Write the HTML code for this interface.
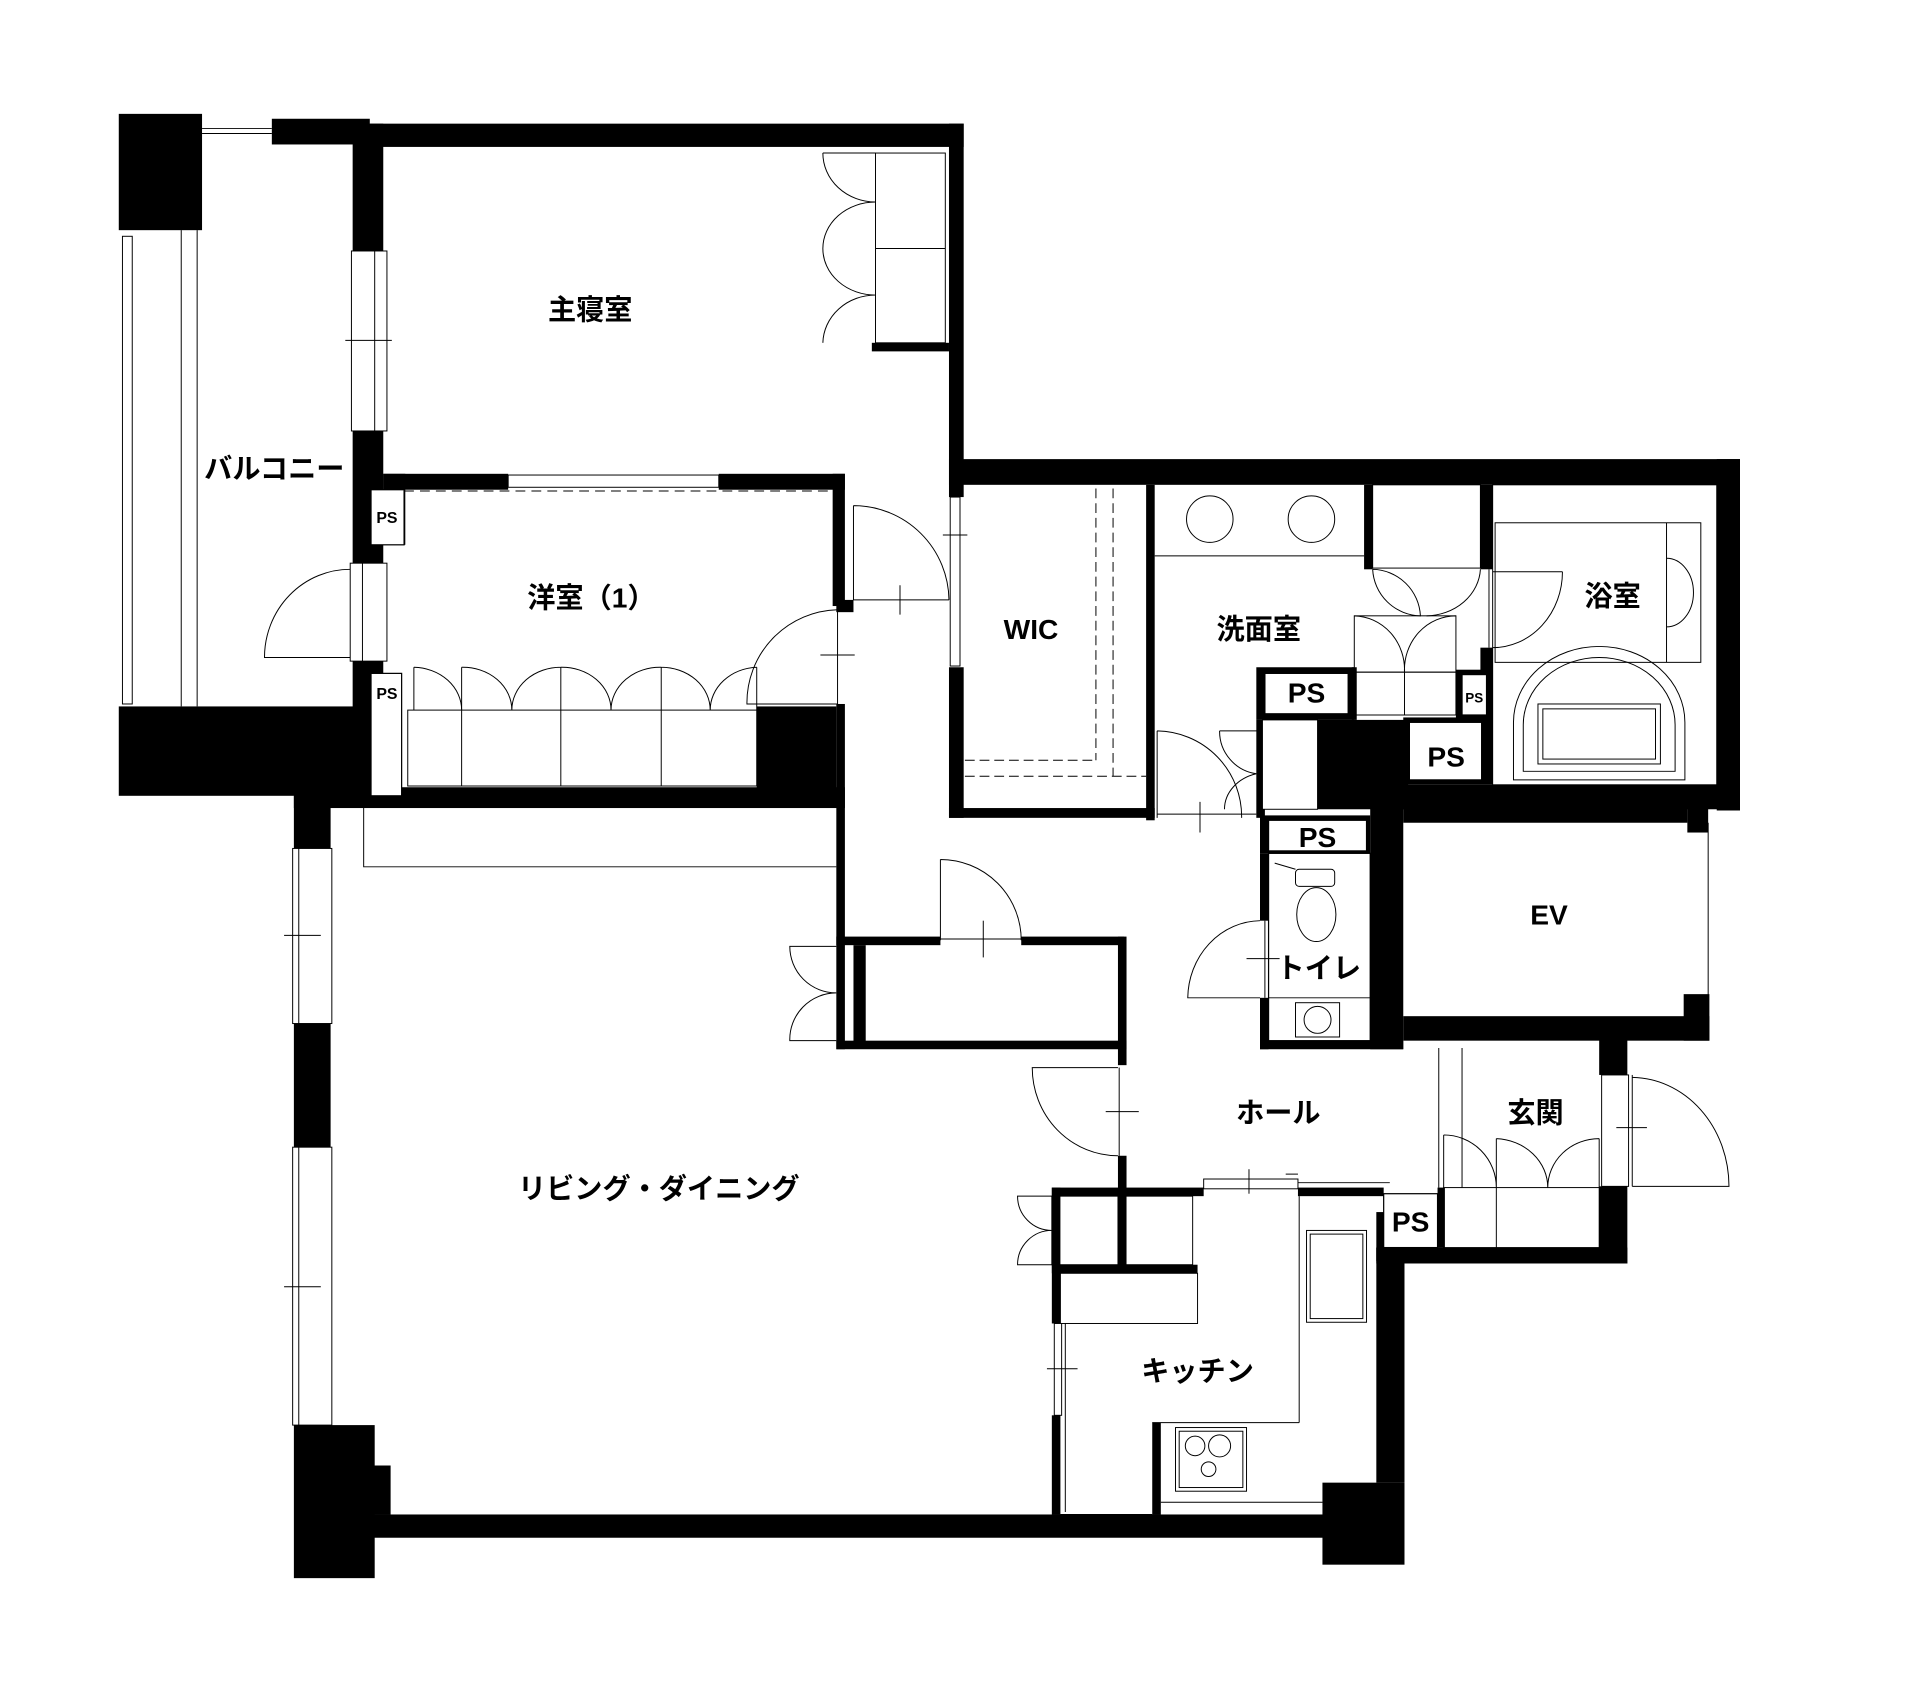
<!DOCTYPE html>
<html><head><meta charset="utf-8"><style>
html,body{margin:0;padding:0;background:#fff}
svg{display:block}
text{font-family:"Liberation Sans","Noto Sans CJK JP",sans-serif;font-weight:bold;fill:#000}
</style></head><body>
<svg width="1920" height="1692" viewBox="0 0 1568 1382" preserveAspectRatio="none" xmlns="http://www.w3.org/2000/svg">
<rect width="1568" height="1382" fill="#fff"/>
<g fill="#000" stroke="none">
<rect x="97" y="93" width="68" height="95"/>
<rect x="222" y="97" width="80" height="21"/>
<rect x="302" y="101" width="485" height="19"/>
<rect x="288" y="101" width="25" height="104"/>
<rect x="288" y="352" width="25" height="108"/>
<rect x="288" y="540" width="25" height="115"/>
<rect x="313" y="387" width="18" height="58"/>
<rect x="313" y="387" width="102" height="13"/>
<rect x="587" y="387" width="103" height="13"/>
<rect x="680" y="387" width="10" height="108"/>
<rect x="683" y="490" width="14" height="10"/>
<rect x="775" y="101" width="12" height="305"/>
<rect x="775" y="545" width="12" height="123"/>
<rect x="712" y="280" width="63" height="7"/>
<rect x="97" y="577" width="208" height="73"/>
<rect x="618" y="577" width="65" height="78"/>
<rect x="240" y="643" width="450" height="17"/>
<rect x="240" y="650" width="30" height="43"/>
<rect x="683" y="575" width="7" height="282"/>
<rect x="240" y="836" width="30" height="101"/>
<rect x="240" y="1164" width="66" height="125"/>
<rect x="270" y="1197" width="49" height="40"/>
<rect x="303" y="1237" width="842" height="19"/>
<rect x="1080" y="1211" width="67" height="67"/>
<rect x="683" y="765" width="85" height="7"/>
<rect x="834" y="765" width="84" height="7"/>
<rect x="697" y="772" width="10" height="80"/>
<rect x="683" y="850" width="237" height="7"/>
<rect x="913" y="765" width="7" height="105"/>
<rect x="913" y="944" width="7" height="89"/>
<rect x="775" y="375" width="646" height="21"/>
<rect x="1402" y="375" width="19" height="287"/>
<rect x="1144" y="641" width="277" height="20"/>
<rect x="1378" y="660" width="17" height="20"/>
<rect x="936" y="396" width="7" height="274"/>
<rect x="775" y="660" width="168" height="8"/>
<rect x="1114" y="396" width="7" height="69"/>
<rect x="1209" y="396" width="10" height="69"/>
<rect x="1209" y="529" width="10" height="20"/>
<rect x="1026" y="545" width="80" height="43"/>
<rect x="1026" y="588" width="7" height="80"/>
<rect x="1076" y="588" width="74" height="73"/>
<rect x="1104" y="545" width="4" height="43"/>
<rect x="1189" y="547" width="30" height="41"/>
<rect x="1146" y="586" width="73" height="55"/>
<rect x="1029" y="666" width="90" height="31"/>
<rect x="1029" y="697" width="7" height="55"/>
<rect x="1029" y="815" width="7" height="42"/>
<rect x="1029" y="850" width="117" height="7"/>
<rect x="1119" y="660" width="27" height="197"/>
<rect x="1146" y="660" width="232" height="12"/>
<rect x="1146" y="830" width="250" height="20"/>
<rect x="1375" y="812" width="21" height="38"/>
<rect x="1306" y="849" width="23" height="29"/>
<rect x="1306" y="969" width="23" height="63"/>
<rect x="1124" y="1019" width="205" height="13"/>
<rect x="1124" y="990" width="6" height="40"/>
<rect x="1174" y="970" width="6" height="49"/>
<rect x="1124" y="1019" width="23" height="192"/>
<rect x="859" y="970" width="124" height="7"/>
<rect x="1060" y="970" width="70" height="7"/>
<rect x="859" y="970" width="7" height="111"/>
<rect x="859" y="1156" width="7" height="81"/>
<rect x="859" y="1033" width="119" height="7"/>
<rect x="941" y="1162" width="7" height="75"/>
</g>
<g fill="#fff" stroke="#000" stroke-width="1">
<rect x="303" y="400" width="27" height="45"/>
<rect x="303" y="550" width="25" height="100"/>
<rect x="1033" y="550" width="68" height="33"/>
<rect x="1194" y="551" width="20" height="33"/>
<rect x="1151" y="590" width="59" height="47"/>
<rect x="1036" y="670" width="80" height="25"/>
<rect x="1130" y="975" width="44" height="44"/>
<rect x="1036" y="697" width="83" height="153" fill="none"/>
</g>
<g fill="none" stroke="#000" stroke-width="0.8">
<line x1="165" y1="105" x2="222" y2="105"/><line x1="165" y1="109" x2="222" y2="109"/>
<rect x="100" y="193" width="8" height="382"/>
<line x1="148" y1="188" x2="148" y2="577"/><line x1="161" y1="188" x2="161" y2="577"/>
<rect x="287" y="205" width="29" height="147" fill="#fff"/><line x1="306" y1="205" x2="306" y2="352"/><line x1="282" y1="278" x2="320" y2="278"/>
<rect x="286" y="460" width="30" height="80" fill="#fff"/><line x1="296" y1="460" x2="296" y2="540"/>
<path d="M286 465 A70 72 0 0 0 216 537 L286 537"/>
<rect x="239" y="693" width="32" height="143" fill="#fff"/><line x1="244" y1="693" x2="244" y2="836"/><line x1="232" y1="764" x2="262" y2="764"/>
<rect x="239" y="937" width="32" height="227" fill="#fff"/><line x1="244" y1="937" x2="244" y2="1164"/><line x1="232" y1="1051" x2="262" y2="1051"/>
<rect x="715" y="125" width="57" height="155"/><line x1="715" y1="203" x2="772" y2="203"/>
<path d="M715 125 L672 125 M672 125 A43 40 0 0 0 715 165 A43 38 0 0 0 672 203 A43 38 0 0 0 715 241 A43 40 0 0 0 672 280"/>
<rect x="415" y="388" width="172" height="10"/>
<line x1="330" y1="401" x2="680" y2="401" stroke-dasharray="8 5"/>
<rect x="333" y="580" width="285" height="62"/>
<line x1="377" y1="545" x2="377" y2="642"/><line x1="458" y1="545" x2="458" y2="642"/><line x1="540" y1="545" x2="540" y2="642"/>
<line x1="338" y1="545" x2="338" y2="580"/><line x1="618" y1="545" x2="618" y2="580"/>
<path d="M338 545 A40 35 0 0 1 377 580 M377 545 A40 35 0 0 1 418 580 A40 35 0 0 1 458 545 M458 545 A40 35 0 0 1 499 580 A40 35 0 0 1 540 545 M540 545 A40 35 0 0 1 580 580 A40 35 0 0 1 618 545"/>
<path d="M697 413 L697 490 L775 490 M697 413 A78 78 0 0 1 775 490"/>
<line x1="735" y1="478" x2="735" y2="502"/>
<rect x="776" y="406" width="8" height="138" fill="#fff"/><line x1="770" y1="437" x2="790" y2="437"/>
<path d="M684 498 L684 575 M684 498 A76 76 0 0 0 610 575 L684 575"/>
<line x1="670" y1="535" x2="698" y2="535"/>
<path d="M297 660 L297 708 L683 708"/>
<path d="M768 702 L768 768 M768 702 A66 66 0 0 1 834 768"/>
<line x1="768" y1="767" x2="834" y2="767"/><line x1="803" y1="752" x2="803" y2="782"/>
<path d="M683 773 L645 773 A38 38 0 0 0 683 811 A38 38 0 0 0 645 850 L683 850"/>
<path d="M913 872 L843 872 A70 72 0 0 0 913 944"/><line x1="914" y1="872" x2="914" y2="944"/><line x1="903" y1="908" x2="930" y2="908"/>
<line x1="895" y1="399" x2="895" y2="621" stroke-dasharray="8 4"/><line x1="909" y1="399" x2="909" y2="634" stroke-dasharray="8 4"/>
<line x1="788" y1="621" x2="895" y2="621" stroke-dasharray="8 4"/><line x1="788" y1="634" x2="936" y2="634" stroke-dasharray="8 4"/>
<circle cx="988" cy="424" r="19"/><circle cx="1071" cy="424" r="19"/>
<line x1="943" y1="454" x2="1114" y2="454"/>
<rect x="1121" y="396" width="88" height="68"/>
<rect x="1106" y="503" width="83" height="46"/>
<rect x="1106" y="549" width="83" height="35"/><line x1="1147" y1="549" x2="1147" y2="584"/>
<path d="M1121 465 A40 40 0 0 0 1160 503 A40 40 0 0 0 1121 465 M1209 465 A45 40 0 0 1 1165 503 M1106 503 A42 44 0 0 1 1147 549 A42 44 0 0 1 1189 503"/>
<path d="M945 597 L945 668 M945 597 A70 70 0 0 1 1014 668"/><line x1="945" y1="665" x2="1026" y2="665"/><line x1="980" y1="655" x2="980" y2="680"/>
<rect x="1031" y="588" width="45" height="73" fill="#fff"/>
<path d="M996 597 L1031 597 M996 597 A35 35 0 0 0 1026 632 A35 30 0 0 0 1000 661"/>
<rect x="1219" y="396" width="183" height="245"/>
<rect x="1221" y="427" width="168" height="114"/><line x1="1361" y1="427" x2="1361" y2="541"/>
<path d="M1361 456 A22 28 0 0 1 1361 512"/>
<line x1="1216" y1="465" x2="1216" y2="529"/>
<path d="M1219 467 L1276 467 M1276 467 A57 62 0 0 1 1219 529"/>
<path d="M1236 637 L1236 590 A70 62 0 0 1 1376 590 L1376 637 Z"/>
<path d="M1244 630 L1244 592 A62 55 0 0 1 1368 592 L1368 630 Z"/>
<rect x="1256" y="575" width="100" height="49"/><rect x="1260" y="579" width="92" height="41"/>
<line x1="1395" y1="672" x2="1395" y2="815"/>
<rect x="1058" y="710" width="32" height="14" rx="3"/>
<ellipse cx="1075" cy="747" rx="16" ry="22"/>
<path d="M1041 705 L1058 710"/>
<line x1="1036" y1="815" x2="1119" y2="815"/>
<rect x="1058" y="819" width="36" height="28"/><circle cx="1076" cy="833" r="11"/>
<path d="M1029 752 A60 64 0 0 0 970 815 L1029 815"/><line x1="1033" y1="752" x2="1033" y2="815"/><line x1="1018" y1="783" x2="1045" y2="783"/>
<line x1="1175" y1="856" x2="1175" y2="970"/><line x1="1194" y1="856" x2="1194" y2="970"/>
<rect x="1179" y="970" width="127" height="49"/><line x1="1222" y1="970" x2="1222" y2="1019"/>
<path d="M1179 927 A43 43 0 0 1 1222 970 M1222 930 A44 40 0 0 1 1264 970 A42 40 0 0 1 1306 930 M1222 930 L1222 970 M1179 927 L1179 970 M1306 930 L1306 970"/>
<rect x="1308" y="878" width="22" height="91" fill="#fff"/><line x1="1333" y1="878" x2="1333" y2="969"/>
<path d="M1333 880 A80 89 0 0 1 1412 969 L1333 969"/><line x1="1320" y1="921" x2="1345" y2="921"/>
<rect x="983" y="963" width="77" height="8" fill="#fff"/><line x1="1020" y1="955" x2="1020" y2="975"/>
<line x1="1060" y1="966" x2="1135" y2="966"/><line x1="1050" y1="959" x2="1060" y2="959"/>
<rect x="859" y="977" width="115" height="56"/><line x1="913" y1="977" x2="913" y2="1033"/>
<path d="M859 977 L831 977 A28 28 0 0 0 859 1005 A28 28 0 0 0 831 1033 L859 1033"/>
<rect x="866" y="1040" width="112" height="41"/>
<rect x="861" y="1081" width="6" height="75" fill="#fff"/><line x1="870" y1="1081" x2="870" y2="1235"/><line x1="855" y1="1118" x2="880" y2="1118"/>
<line x1="1061" y1="977" x2="1061" y2="1162"/><line x1="941" y1="1162" x2="1061" y2="1162"/>
<rect x="1067" y="1005" width="49" height="75"/><rect x="1070" y="1008" width="43" height="69"/>
<rect x="960" y="1166" width="58" height="52"/><rect x="963" y="1169" width="52" height="46"/>
<circle cx="976" cy="1181" r="8"/><circle cx="996" cy="1181" r="9"/><circle cx="987" cy="1200" r="6"/>
<line x1="948" y1="1227" x2="1080" y2="1227"/>
<line x1="866" y1="1237" x2="941" y2="1237"/>
</g>
<g font-size="23">
<text x="482" y="261" text-anchor="middle">主寝室</text>
<text x="224" y="391" text-anchor="middle">バルコニー</text>
<text x="483" y="496" text-anchor="middle">洋室（1）</text>
<text x="842" y="522" text-anchor="middle">WIC</text>
<text x="1028" y="522" text-anchor="middle">洗面室</text>
<text x="1317" y="495" text-anchor="middle">浴室</text>
<text x="1265" y="755" text-anchor="middle">EV</text>
<text x="1077" y="799" text-anchor="middle">トイレ</text>
<text x="1044" y="917" text-anchor="middle">ホール</text>
<text x="1254" y="917" text-anchor="middle">玄関</text>
<text x="538" y="979" text-anchor="middle">リビング・ダイニング</text>
<text x="978" y="1128" text-anchor="middle">キッチン</text>
<text x="1067" y="574" text-anchor="middle">PS</text>
<text x="1181" y="626" text-anchor="middle">PS</text>
<text x="1076" y="692" text-anchor="middle">PS</text>
<text x="1152" y="1006" text-anchor="middle">PS</text>
</g>
<g font-size="13" font-weight="normal">
<text x="316" y="427" text-anchor="middle">PS</text>
<text x="316" y="571" text-anchor="middle">PS</text>
<text x="1204" y="574" text-anchor="middle" font-size="11">PS</text>
</g>
</svg>
</body></html>
